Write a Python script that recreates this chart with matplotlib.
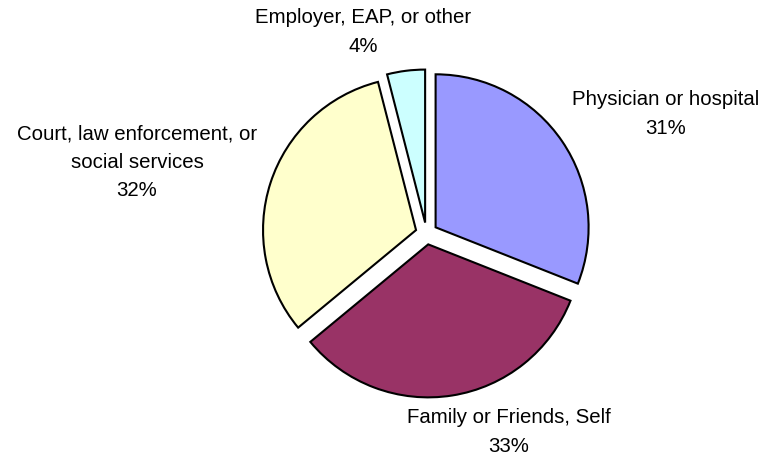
import matplotlib.pyplot as plt

# Referral sources, clockwise from 12 o'clock
labels = ['Physician or hospital', 'Family or Friends, Self',
          'Court, law enforcement, or\nsocial services', 'Employer, EAP, or other']
shares = [31, 33, 32, 4]
colors = ['#9999FF', '#993366', '#FFFFCC', '#CCFFFF']

# label anchor positions (pixels, from top-left)
label_pos = [(666, 114), (509, 432), (137, 162), (363, 32)]

W, H = 768, 455
fig = plt.figure(figsize=(W / 100, H / 100), dpi=100)
ax = fig.add_axes([0, 0, 1, 1])

# explode is in data units here (pixels), not a fraction of the radius
ax.pie(shares, colors=colors, startangle=90, counterclock=False,
       explode=[11] * len(shares), center=(426.5, H - 233.5), radius=153,
       wedgeprops=dict(edgecolor='black', linewidth=1.5))

for lab, val, (x, y) in zip(labels, shares, label_pos):
    ax.text(x, H - y, f'{lab}\n{val}%', ha='center', va='center',
            fontsize=14.7, family='Liberation Sans', linespacing=1.62)

ax.set_xlim(0, W)
ax.set_ylim(0, H)
ax.set_aspect('equal')
ax.axis('off')

fig.savefig('out.png', dpi=100)
